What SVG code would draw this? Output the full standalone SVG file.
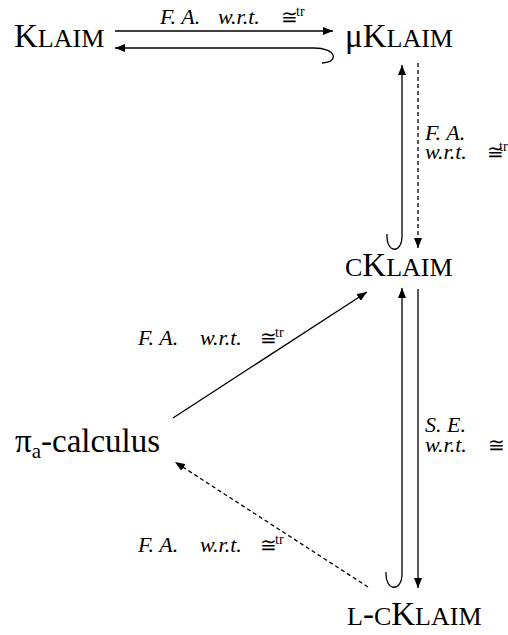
<svg xmlns="http://www.w3.org/2000/svg" width="508" height="635" viewBox="0 0 508 635">
<style>
.n{font-family:"Liberation Serif","Times New Roman",serif;font-size:33px;fill:#000}
.sc{font-size:26px}
.l{font-family:"Liberation Serif","Times New Roman",serif;font-size:22px;font-style:italic;fill:#000}
.s{font-family:"Liberation Serif","DejaVu Serif",serif;font-size:20px;font-style:normal}
.sup{font-family:"Liberation Serif",serif;font-size:14px;font-style:normal}
.c{fill:none;stroke:#000;stroke-width:1.3}
.d{stroke-dasharray:4,3}
</style>
<defs>
<marker id="ah" markerUnits="userSpaceOnUse" markerWidth="10" markerHeight="8" refX="10" refY="4" orient="auto">
<path d="M0,0 L10,4 L0,8 z" fill="#000"/>
</marker>
</defs>
<rect width="508" height="635" fill="#fff"/>
<g id="klaim"><text class="n" x="14" y="47">K<tspan class="sc">LAIM</tspan></text></g>
<g id="muklaim"><text class="n" x="345" y="47">μK<tspan class="sc">LAIM</tspan></text></g>
<g id="cklaim"><text class="n" x="345" y="276"><tspan class="sc">C</tspan>K<tspan class="sc">LAIM</tspan></text></g>
<g id="lcklaim"><text class="n" x="347" y="625"><tspan class="sc">L</tspan>-<tspan class="sc">C</tspan>K<tspan class="sc">LAIM</tspan></text></g>
<g id="pia"><text class="n" x="15" y="452">π<tspan font-size="21" dy="6">a</tspan><tspan dy="-6">-calculus</tspan></text></g>
<g id="connectors">
<line class="c" x1="115" y1="31" x2="333" y2="31" marker-end="url(#ah)"/>
<path class="c" d="M322,63 C340,62 336,48 314,48 L115,48" marker-end="url(#ah)"/>
<path class="c" d="M387,234 C386,254 402,254 402,236 L402,65" marker-end="url(#ah)"/>
<line class="c d" x1="418" y1="63" x2="418" y2="248" marker-end="url(#ah)"/>
<path class="c" d="M386,572 C385,592 402,592 402,574 L402,288" marker-end="url(#ah)"/>
<line class="c" x1="418" y1="289" x2="418" y2="588" marker-end="url(#ah)"/>
<line class="c" x1="173" y1="418" x2="367" y2="292" marker-end="url(#ah)"/>
<line class="c d" x1="368" y1="587" x2="175" y2="462" marker-end="url(#ah)"/>
</g>
<g id="labels">
<text class="l" y="24"><tspan x="160">F. A.</tspan><tspan x="218">w.r.t.</tspan><tspan class="s" x="281">≅</tspan><tspan class="sup" x="296" dy="-8">tr</tspan></text>
<text class="l" x="425" y="140">F. A.</text>
<text class="l" y="159"><tspan x="425">w.r.t.</tspan><tspan class="s" x="487">≅</tspan><tspan class="sup" font-size="12" x="499" dy="-8">tr</tspan></text>
<text class="l" x="425" y="432">S. E.</text>
<text class="l" y="452"><tspan x="425">w.r.t.</tspan><tspan class="s" x="488">≅</tspan></text>
<text class="l" y="345"><tspan x="138">F. A.</tspan><tspan x="200">w.r.t.</tspan><tspan class="s" x="260">≅</tspan><tspan class="sup" x="275" dy="-8">tr</tspan></text>
<text class="l" y="552"><tspan x="138">F. A.</tspan><tspan x="200">w.r.t.</tspan><tspan class="s" x="260">≅</tspan><tspan class="sup" x="275" dy="-8">tr</tspan></text>
</g>
</svg>
